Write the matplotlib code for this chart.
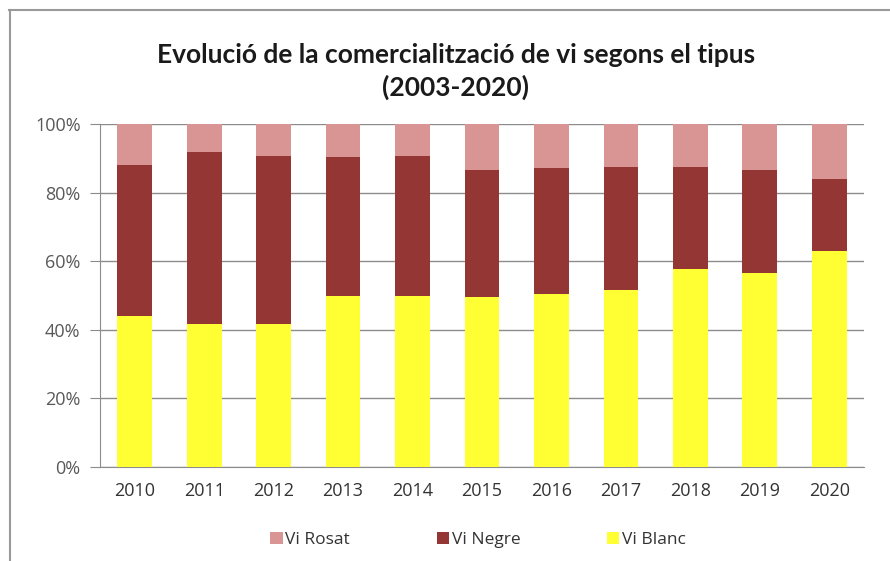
import matplotlib
matplotlib.use("Agg")
import matplotlib.pyplot as plt
from matplotlib.lines import Line2D
import numpy as np

years = ["2010", "2011", "2012", "2013", "2014", "2015", "2016", "2017", "2018", "2019", "2020"]
vi_blanc = [44.1, 41.8, 41.8, 49.8, 49.8, 49.6, 50.3, 51.6, 57.7, 56.7, 62.9]
vi_negre = [43.9, 49.9, 49.0, 40.5, 41.0, 37.0, 36.8, 35.9, 29.8, 29.9, 21.0]
vi_rosat = [100 - b - n for b, n in zip(vi_blanc, vi_negre)]

c_blanc = "#FFFF33"
c_negre = "#943634"
c_rosat = "#D99594"

fig = plt.figure(figsize=(8.90, 5.61), dpi=100)
ax = fig.add_axes([100/890, 1 - 467/561, 764/890, 343/561])

x = np.arange(len(years))
w = 0.5
b1 = ax.bar(x, vi_blanc, w, color=c_blanc, label="Vi Blanc", zorder=3)
b2 = ax.bar(x, vi_negre, w, bottom=vi_blanc, color=c_negre, label="Vi Negre", zorder=3)
bot3 = [b + n for b, n in zip(vi_blanc, vi_negre)]
b3 = ax.bar(x, vi_rosat, w, bottom=bot3, color=c_rosat, label="Vi Rosat", zorder=3)

ax.set_xlim(-0.5, len(years) - 0.5)
ax.set_ylim(0, 100)
ax.set_yticks([0, 20, 40, 60, 80, 100])
ax.set_yticklabels(["0%", "20%", "40%", "60%", "80%", "100%"])
ax.set_xticks(x)
ax.set_xticklabels(years)
ax.yaxis.grid(True, color="#8C8C8C", linewidth=1.0, zorder=0)
ax.set_axisbelow(True)
for s in ["top", "right"]:
    ax.spines[s].set_visible(False)
ax.spines["left"].set_color("#8C8C8C")
ax.spines["bottom"].set_color("#8C8C8C")
ax.tick_params(axis="y", length=7, color="#8C8C8C", labelsize=13, labelcolor="#595959", pad=7)
ax.tick_params(axis="x", length=0, labelsize=13, labelcolor="#333333", pad=11)
for lab in ax.get_xticklabels() + ax.get_yticklabels():
    lab.set_fontfamily("Open Sans")

fig.text(0.512, 1 - 55/561, "Evolució de la comercialització de vi segons el tipus",
         ha="center", va="center", fontsize=19, fontweight="bold", family="Lato", color="#1a1a1a")
fig.text(0.512, 1 - 87/561, "(2003-2020)",
         ha="center", va="center", fontsize=19, fontweight="bold", family="Lato", color="#1a1a1a")

leg = fig.legend([b3, b2, b1], ["Vi Rosat", "Vi Negre", "Vi Blanc"], ncol=3,
                 loc="center", bbox_to_anchor=(478/890, 1 - 540/561), frameon=False,
                 prop={"family": "Open Sans", "size": 12.5}, handlelength=0.7, handleheight=0.7,
                 handletextpad=0.15, columnspacing=5.0)
for t in leg.get_texts():
    t.set_color("#333333")

# outer chart frame (top and left edges visible)
fig.add_artist(Line2D([9/890, 1], [1 - 10/561, 1 - 10/561], color="#9a9a9a", linewidth=1.5,
                      transform=fig.transFigure))
fig.add_artist(Line2D([10/890, 10/890], [0, 1 - 10/561], color="#9a9a9a", linewidth=1.5,
                      transform=fig.transFigure))

fig.savefig("out.png", dpi=100)
